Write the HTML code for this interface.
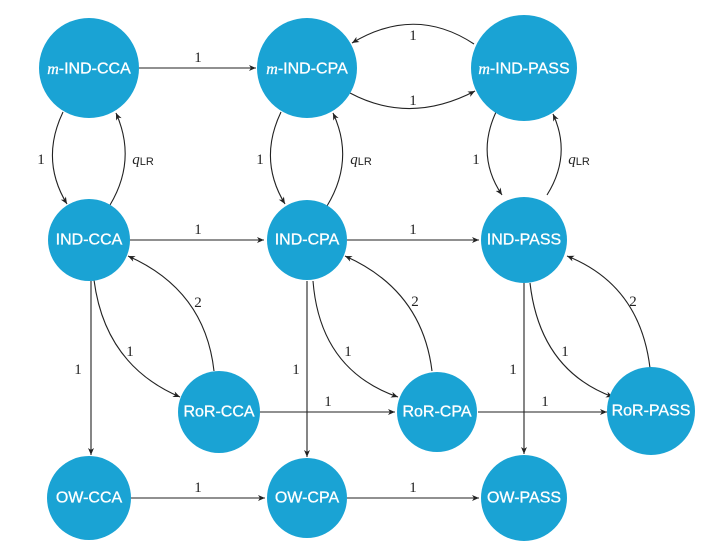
<!DOCTYPE html>
<html><head><meta charset="utf-8"><style>
html,body{margin:0;padding:0;background:#fff;}
svg{display:block}
.n{fill:#1aa3d4}
.t{fill:#fff;font-family:"Liberation Sans",sans-serif;font-size:16px;text-anchor:middle;dominant-baseline:central;stroke:#fff;stroke-width:0.3}
.e{fill:none;stroke:#222;stroke-width:1.1}
.l{font-family:"Liberation Serif",serif;font-size:15px;fill:#222;text-anchor:middle;dominant-baseline:central}
</style></head><body>
<svg width="715" height="554" viewBox="0 0 715 554" xmlns="http://www.w3.org/2000/svg">
<defs><marker id="a" markerWidth="8" markerHeight="8" refX="7" refY="4" orient="auto" markerUnits="userSpaceOnUse"><path d="M0,1 L7,4 L0,7 L2,4 Z" fill="#222"/></marker></defs>
<g class="e" marker-end="url(#a)">
<line x1="139" y1="68" x2="256" y2="68"/>
<line x1="130" y1="240" x2="264" y2="240"/>
<line x1="347" y1="240" x2="479" y2="240"/>
<line x1="260" y1="412" x2="395" y2="412"/>
<line x1="478" y1="412" x2="607" y2="412"/>
<line x1="131" y1="498" x2="265" y2="498"/>
<line x1="347" y1="498" x2="479" y2="498"/>
<line x1="91" y1="281" x2="91" y2="455"/>
<line x1="307" y1="281" x2="307" y2="457"/>
<line x1="524" y1="283" x2="524" y2="454"/>
<path d="M474,44 Q415,5 352,43"/>
<path d="M350,93 Q410,125 475,91"/>
<path d="M63,112 Q40,160 67,204"/>
<path d="M110,205 Q137,160 116,113"/>
<path d="M281,112 Q258,160 285,204"/>
<path d="M327,206 Q355,160 333,113"/>
<path d="M497,110 Q475,155 502,195"/>
<path d="M547,195 Q572,155 553,114"/>
<path d="M94,280 Q105,365 180,397"/>
<path d="M313,281 Q320,370 398,397"/>
<path d="M530,283 Q540,370 613,397"/>
<path d="M214,371 Q205,290 128,256"/>
<path d="M432,371 Q422,290 345,256"/>
<path d="M650,368 Q640,285 567,256"/>
</g>
<g>
<circle class="n" cx="89" cy="68" r="50"/><text class="t" x="89" y="69"><tspan font-family="Liberation Serif" font-style="italic">m</tspan>-IND-CCA</text>
<circle class="n" cx="307" cy="68" r="50"/><text class="t" x="307" y="69"><tspan font-family="Liberation Serif" font-style="italic">m</tspan>-IND-CPA</text>
<circle class="n" cx="524" cy="68" r="53"/><text class="t" x="524" y="69"><tspan font-family="Liberation Serif" font-style="italic">m</tspan>-IND-PASS</text>
<circle class="n" cx="89" cy="240" r="41"/><text class="t" x="89" y="240">IND-CCA</text>
<circle class="n" cx="307" cy="240" r="40"/><text class="t" x="307" y="240">IND-CPA</text>
<circle class="n" cx="524" cy="240" r="43"/><text class="t" x="524" y="240">IND-PASS</text>
<circle class="n" cx="219" cy="412" r="41"/><text class="t" x="219" y="412">RoR-CCA</text>
<circle class="n" cx="437" cy="412" r="40"/><text class="t" x="437" y="412">RoR-CPA</text>
<circle class="n" cx="651" cy="411" r="44"/><text class="t" x="651" y="411">RoR-PASS</text>
<circle class="n" cx="89" cy="498" r="42"/><text class="t" x="89" y="498">OW-CCA</text>
<circle class="n" cx="307" cy="498" r="40"/><text class="t" x="307" y="498">OW-CPA</text>
<circle class="n" cx="524" cy="498" r="43"/><text class="t" x="524" y="498">OW-PASS</text>
</g>
<g class="l">
<text x="198" y="58">1</text>
<text x="413" y="36">1</text>
<text x="413" y="101">1</text>
<text x="41" y="160">1</text>
<text x="260" y="160">1</text>
<text x="476" y="160">1</text>
<text x="143" y="160"><tspan font-style="italic">q</tspan><tspan font-family="Liberation Sans" font-size="11" dy="2">LR</tspan></text>
<text x="361" y="160"><tspan font-style="italic">q</tspan><tspan font-family="Liberation Sans" font-size="11" dy="2">LR</tspan></text>
<text x="579" y="160"><tspan font-style="italic">q</tspan><tspan font-family="Liberation Sans" font-size="11" dy="2">LR</tspan></text>
<text x="198" y="230">1</text>
<text x="413" y="230">1</text>
<text x="198" y="303">2</text>
<text x="415" y="302">2</text>
<text x="633" y="302">2</text>
<text x="130" y="352">1</text>
<text x="348" y="352">1</text>
<text x="565" y="352">1</text>
<text x="78" y="370">1</text>
<text x="296" y="370">1</text>
<text x="513" y="370">1</text>
<text x="328" y="402">1</text>
<text x="545" y="402">1</text>
<text x="198" y="488">1</text>
<text x="413" y="488">1</text>
</g>
</svg>
</body></html>
